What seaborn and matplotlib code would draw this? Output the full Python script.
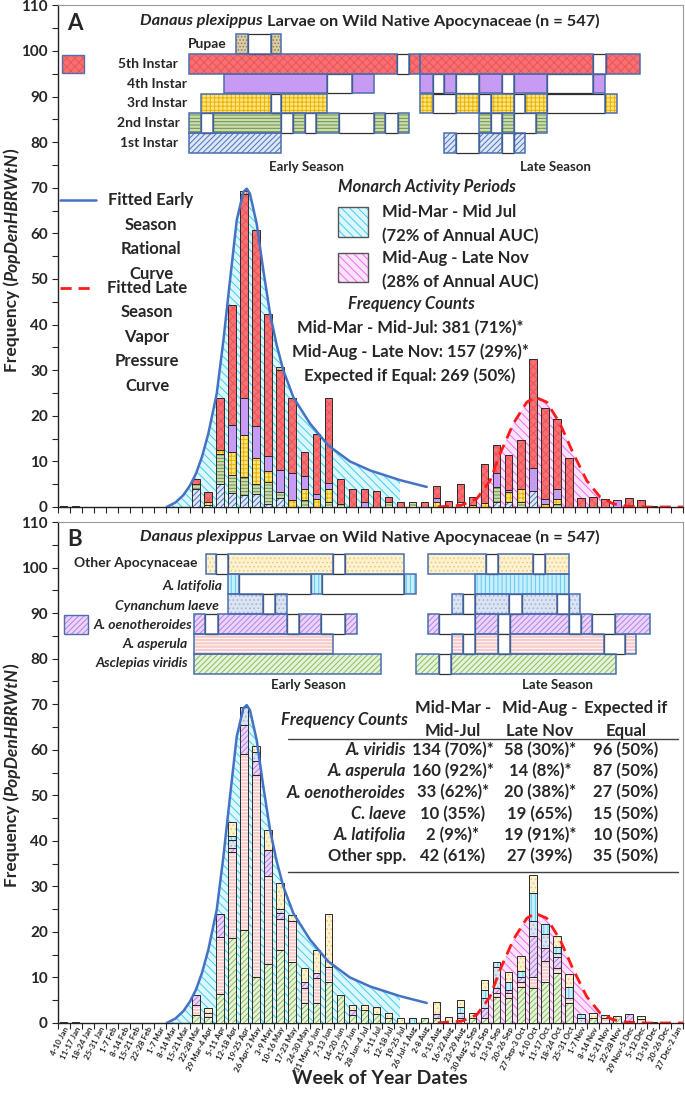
import numpy as np
import matplotlib
matplotlib.use("Agg")
import matplotlib.pyplot as plt
from matplotlib.patches import Rectangle
from matplotlib.lines import Line2D
import seaborn as sns

# ---------------- data ----------------
weeks = ["4-10 Jan", "11-17 Jan", "18-24 Jan", "25-31 Jan", "1-7 Feb", "8-14 Feb",
         "15-21 Feb", "22-28 Feb", "1-7 Mar", "8-14 Mar", "15-21 Mar", "22-28 Mar",
         "29 Mar-4 Apr", "5-11 Apr", "12-18 Apr", "19-25 Apr", "26 Apr-2 May",
         "3-9 May", "10-16 May", "17-23 May", "24-30 May", "31 May-6 Jun", "7-13 Jun",
         "14-20 Jun", "21-27 Jun", "28 Jun-4 Jul", "5-11 Jul", "12-18 Jul", "19-25 Jul",
         "26 Jul-1 Aug", "2-8 Aug", "9-15 Aug", "16-22 Aug", "23-29 Aug",
         "30 Aug-5 Sep", "6-12 Sep", "13-19 Sep", "20-26 Sep", "27 Sep-3 Oct",
         "4-10 Oct", "11-17 Oct", "18-24 Oct", "25-31 Oct", "1-7 Nov", "8-14 Nov",
         "15-21 Nov", "22-28 Nov", "29 Nov-5 Dec", "5-12 Dec", "13-19 Dec",
         "20-26 Dec", "27 Dec-2 Jan"]

# panel A: larval stage per week
instar1 = [0, 0, 0, 0, 0, 0, 0, 0, 0, 0, 0, 4.0, 0.4,
           5.0, 3.1, 2.6, 2.9, 0.7, 2.0, 0, 0, 0, 0, 0, 0, 0,
           0, 0, 0, 0, 0, 0, 0, 1.1, 0, 0, 1.1, 1.1, 0,
           3.5, 0, 0, 0, 0, 0, 0, 0, 0, 0, 0, 0, 0]
instar2 = [0, 0, 0, 0, 0, 0, 0, 0, 0, 0, 0, 1.0, 0,
           6.7, 4.0, 4.0, 2.2, 4.8, 1.3, 0, 1.5, 0, 1.1, 0.7, 0, 0,
           0, 1.1, 0, 1.1, 0, 0, 0, 0, 0, 0, 3.3, 0, 1.1,
           0, 0, 0.7, 0, 0, 0, 0, 0, 0, 0, 0, 0, 0]
instar3 = [0, 0, 0, 0, 0, 0, 0, 0, 0, 0, 0, 0, 0.7,
           0.7, 4.9, 9.1, 5.7, 2.5, 0, 1.5, 2.5, 1.8, 2.9, 0, 0, 0,
           0, 0, 0, 0, 0, 1.1, 0, 0, 0.5, 0.9, 0, 2.2, 2.8,
           0, 0.7, 1.1, 0, 0, 0, 0, 0, 0, 0, 0, 0, 0]
instar4 = [0, 0, 0, 0, 0, 0, 0, 0, 0, 0, 0, 0, 0,
           0, 6.0, 8.3, 7.0, 3.1, 4.9, 6.0, 2.9, 1.1, 1.3, 0, 0, 1.1,
           0, 0, 0, 0, 0, 0.9, 0, 0, 0, 0, 3.1, 0.4, 0,
           5.1, 1.1, 2.1, 0, 0, 0, 0, 1.5, 0, 0, 0, 0, 0]
instar5 = [0.3, 0.3, 0, 0, 0, 0, 0, 0, 0, 0, 0, 1.2, 2.2,
           11.5, 26.2, 44.7, 43.0, 31.3, 21.8, 16.3, 5.2, 13.2, 18.6, 5.5, 4.0, 2.9,
           3.5, 1.1, 1.1, 0, 1.1, 2.6, 1.3, 4.0, 1.8, 8.6, 6.0, 7.6, 10.9,
           23.8, 19.9, 15.3, 10.7, 2.0, 2.2, 1.8, 0, 2.0, 1.6, 0.2, 0, 0]
pupae = [0] * 15 + [0.7, 0, 0, 0.7] + [0] * 33

# panel B: host plant per week
viridis = [0.3, 0.3, 0, 0, 0, 0, 0, 0, 0, 0, 0, 1.8, 1.3,
           6.3, 18.7, 20.4, 10.0, 12.9, 16.0, 13.5, 4.5, 4.5, 9.1, 6.2, 1.8, 2.9,
           1.9, 1.1, 0, 0, 1.1, 1.0, 0, 0.6, 1.0, 1.0, 5.6, 5.4, 8.0,
           7.6, 9.1, 10.9, 4.5, 0, 1.1, 0, 1.5, 0, 0, 0.2, 0, 0]
asperula = [0, 0, 0, 0, 0, 0, 0, 0, 0, 0, 0, 2.2, 1.0,
            12.6, 18.9, 38.6, 44.4, 19.4, 6.8, 9.0, 3.1, 5.4, 3.3, 0, 0, 0,
            0, 0, 0, 0, 0, 0, 0, 0.6, 0, 0, 0.9, 1.1, 1.1,
            2.6, 4.6, 1.1, 0.9, 0, 0, 1.0, 0, 0, 0.8, 0, 0, 0]
oenotheroides = [0, 0, 0, 0, 0, 0, 0, 0, 0, 0, 0, 2.2, 0,
                 5.0, 0.8, 6.4, 3.2, 5.6, 1.3, 0, 1.3, 1.1, 0, 0, 1.0, 0,
                 0, 0, 0, 0, 0, 0.9, 0, 0, 0, 2.2, 1.1, 0.7, 1.1,
                 8.8, 2.7, 2.6, 0, 0, 0, 0, 0, 2.0, 0, 0, 0, 0]
laeve = [0, 0, 0, 0, 0, 0, 0, 0, 0, 0, 0, 0, 0,
         0, 1.8, 4.0, 1.8, 0, 1.0, 0, 0, 0, 0, 0, 0, 0,
         0, 0, 0, 0, 0, 0, 0, 0.9, 0, 2.3, 4.8, 0, 0,
         3.3, 3.2, 0.8, 0, 1.0, 0, 0, 0, 0, 0, 0, 0, 0]
latifolia = [0, 0, 0, 0, 0, 0, 0, 0, 0, 0, 0, 0, 0,
             0, 0.9, 0, 0, 0, 0, 0, 0, 0, 0, 0, 0, 0,
             0, 0, 0, 1.1, 0, 0, 0, 1.5, 0, 1.7, 1.1, 1.8, 1.2,
             6.2, 2.1, 1.2, 2.6, 1.0, 0, 0, 0, 0, 0, 0, 0, 0]
other_spp = [0, 0, 0, 0, 0, 0, 0, 0, 0, 0, 0, 0, 1.0,
             0, 3.1, 0, 1.4, 4.5, 5.6, 1.3, 3.2, 5.1, 11.5, 0, 1.2, 1.1,
             1.6, 1.1, 1.1, 0, 0, 2.7, 1.3, 1.5, 1.3, 2.3, 0, 2.3, 3.4,
             3.9, 0, 2.6, 2.7, 0, 1.1, 0.8, 0, 0, 0.8, 0, 0, 0]

# fitted curves (week position, frequency)
early_x = [8.57, 9.3, 9.95, 10.5, 11.0, 11.5, 12.03, 12.73, 13.28, 13.83, 14.39, 14.94,
           15.22, 15.49, 16.05, 16.6, 17.16, 17.71, 18.26, 19.09, 20.48, 22.0, 23.8,
           25.5, 27.96, 30.18]
early_y = [0, 1.0, 2.6, 4.7, 7.3, 11.0, 16.1, 24.9, 36.5, 49.7, 62.9, 69.1,
           69.8, 68.7, 62.1, 51.9, 42.4, 35.5, 30.0, 24.1, 18.3, 13.5, 10.0,
           8.0, 5.9, 4.4]
late_x = [31.1, 33.09, 34.34, 35.45, 36.28, 37.38, 38.5, 39.19, 40.16, 41.26, 42.37,
          43.48, 44.59, 45.69, 46.8, 48.47, 51.5]
late_y = [0, 0.4, 1.8, 5.8, 11.7, 18.3, 23.0, 24.1, 23.0, 18.3, 11.7,
          5.8, 2.2, 0.7, 0.2, 0, 0]
early_fill_end = 28.0
late_fill_range = (34.3, 46.8)

# activity periods: (segment edges in weeks, 1 = active, 0 = gap)
pupae_span = [([14.3, 15.3, 17.2, 18.1], [1, 0, 1])]
instar5_span = [([10.4, 27.7, 28.7, 29.6, 44.0, 45.1, 47.9], [1, 0, 1, 1, 0, 1])]
instar4_span = [([13.3, 21.9, 24.0, 25.8], [1, 0, 1]),
                ([29.6, 30.7, 31.6, 32.6, 34.5, 36.4, 37.4, 40.2, 44.0, 45.0],
                 [1, 0, 1, 0, 1, 0, 1, 0, 1])]
instar3_span = [([11.4, 17.2, 18.1, 21.9], [1, 0, 1]),
                ([29.6, 30.7, 32.6, 34.5, 35.5, 37.4, 38.35, 40.2, 45.0, 46.0],
                 [1, 0, 1, 0, 1, 0, 1, 0, 1])]
instar2_span = [([10.4, 11.4, 12.4, 18.1, 19.1, 20.1, 21.0, 22.9, 25.8, 26.7, 27.8, 28.7],
                 [1, 0, 1, 0, 1, 0, 1, 0, 1, 0, 1]),
                ([34.5, 35.5, 36.4, 37.4, 39.3, 40.2], [1, 0, 1, 0, 1])]
instar1_span = [([10.4, 18.1], [1]),
                ([31.6, 32.6, 34.5, 36.4, 37.4, 38.35], [1, 0, 1, 0, 1])]

other_span = [([11.8, 12.7, 13.7, 22.4, 23.4, 28.3], [1, 0, 1, 0, 1]),
              ([30.3, 35.1, 36.1, 39.0, 40.0, 42.0], [1, 0, 1, 0, 1])]
latifolia_span = [([13.7, 14.6, 20.6, 21.5, 28.3, 29.3], [1, 0, 1, 0, 1]),
                  ([34.2, 42.0], [1])]
laeve_span = [([13.7, 16.55, 17.6, 18.6], [1, 0, 1]),
              ([32.3, 33.2, 34.2, 37.05, 38.1, 41.0, 42.0, 42.9], [1, 0, 1, 0, 1, 0, 1])]
oeno_span = [([10.8, 11.75, 12.8, 18.6, 19.6, 21.4, 23.4, 24.4], [1, 0, 1, 0, 1, 0, 1]),
             ([30.3, 31.2, 34.2, 36.1, 37.1, 42.0, 43.0, 43.9, 45.8, 48.7],
              [1, 0, 1, 0, 1, 0, 1, 0, 1])]
asperula_span = [([10.8, 22.4], [1]),
                 ([32.3, 33.2, 34.2, 36.1, 37.1, 44.9, 46.7, 47.6], [1, 0, 1, 0, 1, 0, 1])]
viridis_span = [([10.8, 26.4], [1]),
                ([29.3, 31.2, 32.2, 45.9], [1, 0, 1])]

table_rows = ["A. viridis", "A. asperula", "A. oenotheroides", "C. laeve", "A. latifolia", "Other spp."]
col_early = ["134 (70%)*", "160 (92%)*", "33 (62%)*", "10 (35%)", "2 (9%)*", "42 (61%)"]
col_late = ["58 (30%)*", "14 (8%)*", "20 (38%)*", "19 (65%)", "19 (91%)*", "27 (39%)"]
col_equal = ["96 (50%)", "87 (50%)", "27 (50%)", "15 (50%)", "10 (50%)", "35 (50%)"]

# ---------------- styles ----------------
sns.set_theme(style="ticks")
plt.rcParams["font.family"] = ["Lato", "DejaVu Sans"]
plt.rcParams["hatch.linewidth"] = 0.7
plt.rcParams["axes.linewidth"] = 1.0

st_1 = ("#DCE6F5", "//////", "#4A72C0")
st_2 = ("#C8DCB0", "-----", "#6E8F45")
st_3 = ("#FFE37F", "++++", "#E8B400")
st_4 = ("#C79BF3", None, "#C79BF3")
st_5 = ("#F67174", "xxxx", "#EE5357")
st_p = ("#DCCDA6", ".....", "#8E7B52")
st_vir = ("#E6F2DA", "//////", "#86C05A")
st_asp = ("#F9CACA", "-----", "#FFFFFF")
st_oen = ("#EAD5FA", "//////", "#B67EE6")
st_lae = ("#DCE4F2", "....", "#A3B7DE")
st_lat = ("#C6EEFB", "||||", "#5FCBF0")
st_oth = ("#FFF2CF", "....", "#EBCB86")

FS = 12  # body text size
W, H = 685, 1093
fig = plt.figure(figsize=(W / 100, H / 100), dpi=100)
renderer = fig.canvas.get_renderer()


def ftext(x, y, s, **kw):
    kw.setdefault("fontweight", "bold")
    return fig.text(x / W, 1 - y / H, s, **kw)


def runs(x, y, parts, size, rotation=0):
    objs, lens = [], []
    for s, style in parts:
        t = fig.text(0, 0, s, fontsize=size, fontweight="bold", fontstyle=style,
                     rotation=rotation)
        bb = t.get_window_extent(renderer)
        objs.append(t)
        lens.append(bb.width if rotation == 0 else bb.height)
    total = sum(lens)
    if rotation == 0:
        cur = x - total / 2
        for t, w in zip(objs, lens):
            t.set_position((cur / W, 1 - y / H))
            t.set_ha("left"); t.set_va("center")
            cur += w
    else:
        cur = y + total / 2
        for t, h in zip(objs, lens):
            t.set_position((x / W, 1 - cur / H))
            t.set_ha("center"); t.set_va("bottom")
            cur -= h


def fbox(x0, y0, x1, y1, style, edge="#4F6FA8"):
    face, hatch, hc = style
    fig.add_artist(Rectangle((x0 / W, 1 - y1 / H), (x1 - x0) / W, (y1 - y0) / H,
                             transform=fig.transFigure, facecolor=face, hatch=hatch,
                             edgecolor=hc, linewidth=0))
    fig.add_artist(Rectangle((x0 / W, 1 - y1 / H), (x1 - x0) / W, (y1 - y0) / H,
                             transform=fig.transFigure, fill=False,
                             edgecolor=edge, linewidth=1.0))


xs = np.arange(len(weeks))


def stack(ax, layers):
    bottom = np.zeros(len(weeks))
    for vals, (face, hatch, hc) in layers:
        v = np.asarray(vals, dtype=float)
        m = v > 0
        ax.bar(xs[m], v[m], bottom=bottom[m], width=0.62, facecolor=face, hatch=hatch,
               edgecolor=hc, linewidth=0, zorder=3)
        ax.bar(xs[m], v[m], bottom=bottom[m], width=0.62, fill=False,
               edgecolor="#2A2A2A", linewidth=0.7, zorder=3.1)
        bottom += v


def gantt(ax, spans, yc, h, style):
    face, hatch, hc = style
    for edges, flags in spans:
        for a, b, f in zip(edges[:-1], edges[1:], flags):
            if f:
                ax.add_patch(Rectangle((a, yc - h / 2), b - a, h, facecolor=face, hatch=hatch,
                                       edgecolor=hc, linewidth=0, zorder=6))
                ax.add_patch(Rectangle((a, yc - h / 2), b - a, h, fill=False,
                                       edgecolor="#4A6EB0", linewidth=1.1, zorder=6.2))
            else:
                ax.add_patch(Rectangle((a, yc - h / 2), b - a, h, facecolor="white",
                                       edgecolor="#303030", linewidth=0.9, zorder=6.1))


def base_axes(rect):
    ax = fig.add_axes(rect)
    ax.set_xlim(-0.5, len(weeks) - 0.5)
    ax.set_ylim(0, 110)
    ax.set_yticks(range(0, 111, 10))
    ax.set_yticks(range(5, 110, 10), minor=True)
    ax.set_xticks(xs)
    ax.set_xticks(np.arange(-0.5, len(weeks), 1), minor=True)
    ax.tick_params(axis="x", which="major", length=0, pad=2)
    ax.tick_params(axis="x", which="minor", length=4, width=0.8, direction="out")
    ax.tick_params(axis="y", which="both", length=4, width=0.8, direction="out",
                   labelsize=11, pad=3)
    for lab in ax.get_yticklabels():
        lab.set_fontweight("bold")
    for s in ("top", "right"):
        ax.spines[s].set_color("#9A9A9A")
        ax.spines[s].set_linewidth(0.8)
    for s in ("left", "bottom"):
        ax.spines[s].set_color("#222222")
    # fitted curves with shaded activity periods
    ex, ey = np.array(early_x), np.array(early_y)
    m = ex <= early_fill_end
    ax.fill_between(ex[m], ey[m], facecolor="#DDF7FE", hatch="\\\\\\\\", edgecolor="#3DCFF2",
                    linewidth=0, zorder=1)
    lx, ly = np.array(late_x), np.array(late_y)
    m = (lx >= late_fill_range[0]) & (lx <= late_fill_range[1])
    ax.fill_between(lx[m], ly[m], facecolor="#FBE3FB", hatch="\\\\\\\\", edgecolor="#F26BF2",
                    linewidth=0, zorder=1)
    sns.lineplot(x=early_x, y=early_y, ax=ax, color="#4472C4", linewidth=1.8,
                 estimator=None, sort=False, zorder=5)
    sns.lineplot(x=late_x, y=late_y, ax=ax, color="#FF1A1A", linewidth=2.0,
                 linestyle=(0, (4, 2.5)), estimator=None, sort=False, zorder=5)
    return ax


axA = base_axes([57.6 / W, (H - 507) / H, 625.6 / W, 501.6 / H])
axB = base_axes([57.6 / W, (H - 1023) / H, 625.6 / W, 501.0 / H])
axA.set_xticklabels([])
axB.set_xticklabels(weeks, rotation=63, ha="right", rotation_mode="anchor",
                    fontsize=5.8, fontweight="bold")

# ---------------- panel A ----------------
stack(axA, [(instar1, st_1), (instar2, st_2), (instar3, st_3), (instar4, st_4),
            (instar5, st_5), (pupae, st_p)])
rowsA = [(pupae_span, 101.55, st_p, "Pupae", 227, 44),
         (instar5_span, 97.2, st_5, "5th Instar", 178, 64),
         (instar4_span, 92.85, st_4, "4th Instar", 187, 84),
         (instar3_span, 88.5, st_3, "3rd Instar", 187, 103),
         (instar2_span, 84.15, st_2, "2nd Instar", 180, 123),
         (instar1_span, 79.8, st_1, "1st Instar", 178, 143)]
for spans, yc, st, lab, lx_, ly_ in rowsA:
    gantt(axA, spans, yc, 4.3, st)
    ftext(lx_, ly_, lab, fontsize=10, ha="right", va="center")

ftext(75, 23, "A", fontsize=16, ha="center", va="center")
runs(370, 21, [("Danaus plexippus", "italic"),
               (" Larvae on Wild Native Apocynaceae (n = 547)", "normal")], 11.8)
ftext(306, 167, "Early Season", fontsize=9.5, ha="center", va="center")
ftext(555, 167, "Late Season", fontsize=9.5, ha="center", va="center")
fbox(62, 55, 84, 73, st_5)

fig.add_artist(Line2D([60 / W, 96 / W], [1 - 200 / H] * 2, transform=fig.transFigure,
                      color="#4472C4", linewidth=1.8))
for i, s in enumerate(["Fitted Early", "Season", "Rational", "Curve"]):
    ftext(151, 200 + 24.6 * i, s, fontsize=FS, ha="center", va="center")
fig.add_artist(Line2D([60 / W, 96 / W], [1 - 288 / H] * 2, transform=fig.transFigure,
                      color="#FF1A1A", linewidth=2.0, linestyle=(0, (4, 2.5))))
for i, s in enumerate(["Fitted Late", "Season", "Vapor", "Pressure", "Curve"]):
    ftext(147, 288 + 24.4 * i, s, fontsize=FS, ha="center", va="center")

ftext(338, 187, "Monarch Activity Periods", fontsize=FS, fontstyle="italic",
      ha="left", va="center")
for (y0, y1), face, hc, l1, l2 in [((207, 237), "#DDF7FE", "#3DCFF2",
                                     "Mid-Mar - Mid Jul", "(72% of Annual AUC)"),
                                    ((253, 282), "#FBE3FB", "#F26BF2",
                                     "Mid-Aug - Late Nov", "(28% of Annual AUC)")]:
    fbox(338, y0, 368, y1, (face, "\\\\\\\\", hc), edge="#555555")
    ftext(382, y0 + 5, l1, fontsize=FS, ha="left", va="center")
    ftext(382, y0 + 29, l2, fontsize=FS, ha="left", va="center")

ftext(348, 304, "Frequency Counts", fontsize=FS, fontstyle="italic", ha="left", va="center")
for i, s in enumerate(["Mid-Mar - Mid-Jul: 381 (71%)*", "Mid-Aug - Late Nov: 157 (29%)*",
                       "Expected if Equal: 269 (50%)"]):
    ftext(410, 328 + 24 * i, s, fontsize=FS, ha="center", va="center")

# ---------------- panel B ----------------
stack(axB, [(viridis, st_vir), (asperula, st_asp), (oenotheroides, st_oen), (laeve, st_lae),
            (latifolia, st_lat), (other_spp, st_oth)])
rowsB = [(other_span, 100.7, st_oth, "Other Apocynaceae", 198, 563, "normal"),
         (latifolia_span, 96.3, st_lat, "A. latifolia", 223, 586, "italic"),
         (laeve_span, 91.9, st_lae, "Cynanchum laeve", 219, 606, "italic"),
         (oeno_span, 87.5, st_oen, "A. oenotheroides", 192, 625, "italic"),
         (asperula_span, 83.2, st_asp, "A. asperula", 188, 644, "italic"),
         (viridis_span, 78.8, st_vir, "Asclepias viridis", 188, 663, "italic")]
for spans, yc, st, lab, lx_, ly_, fs in rowsB:
    gantt(axB, spans, yc, 4.4, st)
    ftext(lx_, ly_, lab, fontsize=10, fontstyle=fs, ha="right", va="center")

ftext(75, 540, "B", fontsize=16, ha="center", va="center")
runs(370, 537, [("Danaus plexippus", "italic"),
                (" Larvae on Wild Native Apocynaceae (n = 547)", "normal")], 11.8)
ftext(308, 685, "Early Season", fontsize=9.5, ha="center", va="center")
ftext(557, 685, "Late Season", fontsize=9.5, ha="center", va="center")
fbox(64, 615, 88, 634, st_oen)

ftext(408, 720, "Frequency Counts", fontsize=FS, fontstyle="italic", ha="right", va="center")
for cx, l1, l2 in [(453, "Mid-Mar -", "Mid-Jul"), (540, "Mid-Aug -", "Late Nov"),
                   (626, "Expected if", "Equal")]:
    ftext(cx, 708, l1, fontsize=FS, ha="center", va="center")
    ftext(cx, 731, l2, fontsize=FS, ha="center", va="center")
for yy in (739, 872):
    fig.add_artist(Line2D([288 / W, 678 / W], [1 - yy / H] * 2, transform=fig.transFigure,
                          color="#404040", linewidth=1.0))
for i, lab in enumerate(table_rows):
    yy = 750 + 21.3 * i
    ftext(406, yy, lab, fontsize=FS, fontstyle="normal" if lab.startswith("Other") else "italic",
          ha="right", va="center")
    ftext(453, yy, col_early[i], fontsize=FS, ha="center", va="center")
    ftext(540, yy, col_late[i], fontsize=FS, ha="center", va="center")
    ftext(626, yy, col_equal[i], fontsize=FS, ha="center", va="center")

# axis titles
ylab = [("Frequency (", "normal"), ("PopDenHBRWtN", "italic"), (")", "normal")]
runs(12, 260, ylab, 12.5, rotation=90)
runs(12, 775, ylab, 12.5, rotation=90)
ftext(380, 1078, "Week of Year Dates", fontsize=14, ha="center", va="center")

fig.savefig("out.png", dpi=100)
